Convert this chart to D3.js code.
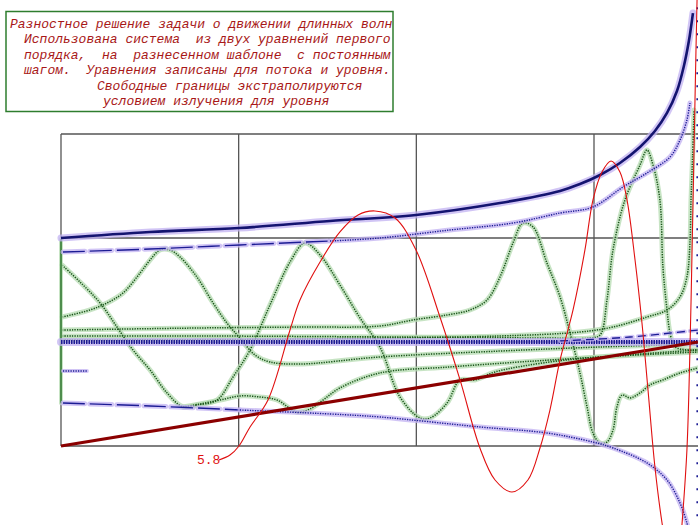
<!DOCTYPE html>
<html>
<head>
<meta charset="utf-8">
<script src="https://cdn.jsdelivr.net/npm/d3@7"></script>
<style>
  body { margin: 0; background: #fff; }
  svg { display: block; }
  text { white-space: pre; }
</style>
</head>
<body>
<svg id="chart" width="698" height="525"></svg>
<script>
// caption lines
var captionLines = [
  "Разностное решение задачи о движении длинных волн",
  "Использована система  из двух уравнений первого",
  "порядка,  на  разнесенном шаблоне  с постоянным",
  "шагом.  Уравнения записаны для потока и уровня.",
  "Свободные границы экстраполируются",
  "условием излучения для уровня"
];
var captionX = [10, 24, 24, 24, 97, 103];

// grid (in plot units)
var gridX = [0, 1, 2, 3, 4];
var gridY = [0, 1, 2, 3];

// red thin wave and its label
var redWave = [[0.889,-0.135],[0.951,-0.087],[1.002,0],[1.064,0.183],[1.165,0.442],[1.289,1.115],[1.345,1.404],[1.458,1.769],[1.570,2.058],[1.672,2.221],[1.767,2.260],[1.880,2.192],[1.998,1.885],[2.133,1.240],[2.246,0.635],[2.358,-0.019],[2.443,-0.327],[2.538,-0.442],[2.628,-0.327],[2.696,-0.019],[2.752,0.346],[2.809,0.827],[2.882,1.308],[2.949,1.885],[2.994,2.365],[3.045,2.635],[3.096,2.740],[3.146,2.635],[3.186,2.365],[3.231,1.788],[3.270,1.183],[3.304,0.538],[3.343,-0.202],[3.383,-0.740],[3.405,-0.952]];
var redRight = [[3.495,-0.760],[3.523,-0.038],[3.540,0.923],[3.552,1.885],[3.563,2.846],[3.574,3.808],[3.580,4.288]];
var redLabel = "5.8";
var redLabelAt = [0.765, -0.17];
// bottom slope
var bottomLine = [[0,0],[3.585,1.0]];

// blue series
var blueTop = [[0,2.0],[0.501,2.058],[1.002,2.096],[1.514,2.163],[1.998,2.221],[2.471,2.336],[2.809,2.452],[2.921,2.519],[3.034,2.606],[3.146,2.721],[3.259,2.875],[3.343,3.029],[3.411,3.202],[3.467,3.413],[3.506,3.654],[3.534,3.894],[3.557,4.163]];
var blueSecond = [[0.011,1.865],[0.501,1.894],[1.007,1.933],[1.514,1.971],[1.795,2.0],[2.189,2.077],[2.544,2.144],[2.809,2.240],[2.994,2.298],[3.163,2.490],[3.298,2.625],[3.428,2.779],[3.484,2.942],[3.523,3.135],[3.540,3.298]];
var blueBand = [[0,1.0],[3.585,1.0]];
var blueRightDash = [[2.809,1.01],[3.203,1.048],[3.585,1.115]];
var blueShort = [[0.011,0.721],[0.146,0.721]];
var blueLower = [[0.011,0.413],[0.501,0.385],[1.007,0.346],[1.514,0.308],[1.795,0.279],[2.358,0.183],[2.735,0.125],[2.994,0.038],[3.107,-0.019],[3.298,-0.163],[3.411,-0.327],[3.484,-0.548],[3.523,-0.740],[3.540,-0.856]];
var blueEdge = [[3.582,-0.8],[3.582,4.3]];

// green series
var greenA = [[0.006,1.240],[0.163,1.308],[0.259,1.375],[0.349,1.471],[0.445,1.663],[0.501,1.788],[0.557,1.885],[0.613,1.885],[0.670,1.817],[0.765,1.625],[0.856,1.375],[0.934,1.183],[1.007,1.038],[1.092,0.875],[1.176,0.808],[1.345,0.788],[1.795,0.856],[2.471,0.913],[3.034,0.952],[3.585,0.981]];
var greenB = [[0.006,1.740],[0.107,1.577],[0.220,1.375],[0.315,1.144],[0.405,0.923],[0.501,0.731],[0.597,0.510],[0.687,0.375],[0.765,0.394],[0.878,0.442],[0.968,0.663],[1.064,0.923],[1.176,1.356],[1.289,1.769],[1.373,1.952],[1.458,1.837],[1.570,1.548],[1.683,1.231],[1.795,0.952],[1.908,0.471],[2.021,0.269],[2.077,0.269],[2.173,0.413],[2.246,0.635],[2.330,0.635],[2.443,0.712],[2.752,0.808],[3.034,0.856],[3.585,0.923]];
var greenC = [[0.006,1.115],[0.782,1.135],[1.345,1.144],[1.795,1.154],[1.981,1.212],[2.173,1.260],[2.302,1.308],[2.398,1.404],[2.471,1.625],[2.544,1.952],[2.600,2.144],[2.657,2.106],[2.735,1.760],[2.809,1.433],[2.865,1.087],[2.921,0.702],[2.961,0.375],[2.994,0.125],[3.034,0.029],[3.073,0.038],[3.107,0.154],[3.129,0.375],[3.158,0.490],[3.203,0.462],[3.259,0.510],[3.315,0.587],[3.388,0.635],[3.484,0.702],[3.585,0.750]];
var greenD = [[0.006,1.058],[0.782,1.058],[1.908,1.048],[2.752,1.038],[2.977,1.038],[3.034,1.067],[3.073,1.404],[3.107,1.885],[3.174,2.365],[3.259,2.702],[3.298,2.846],[3.332,2.702],[3.371,2.365],[3.388,1.721],[3.411,1.308],[3.428,1.087],[3.456,0.952],[3.585,0.923]];
var greenRise = [[0.006,1.019],[1.345,1.029],[2.471,1.058],[2.921,1.096],[3.107,1.144],[3.298,1.240],[3.411,1.308],[3.484,1.433],[3.523,1.625],[3.540,1.952],[3.546,2.365],[3.552,2.654],[3.557,2.894],[3.563,3.231]];
var greenTrough = [[0.687,0.375],[0.782,0.404],[0.895,0.442],[1.007,0.481],[1.120,0.471],[1.216,0.442],[1.328,0.327],[1.401,0.356],[1.475,0.442],[1.570,0.558],[1.795,0.702],[2.189,0.760],[2.583,0.808],[3.034,0.856],[3.585,0.904]];
var greenWall = [[0,0.41],[0,1.99]];

var svg = d3.select("#chart");

var x = d3.scaleLinear().domain([0, 3]).range([61, 594]);
var y = d3.scaleLinear().domain([0, 3]).range([446, 134]);

var line = d3.line()
  .x(function(d){ return x(d[0]); })
  .y(function(d){ return y(d[1]); })
  .curve(d3.curveCatmullRom.alpha(0.5));

// grid
svg.append("g").selectAll("line.v")
  .data(gridX).enter().append("line")
  .attr("x1", function(d){ return x(d); }).attr("x2", function(d){ return x(d); })
  .attr("y1", y(0)).attr("y2", y(3))
  .attr("stroke", "#555").attr("stroke-width", 1.3);
svg.append("g").selectAll("line.h")
  .data(gridY).enter().append("line")
  .attr("x1", x(0)).attr("x2", x(4))
  .attr("y1", function(d){ return y(d); }).attr("y2", function(d){ return y(d); })
  .attr("stroke", "#555").attr("stroke-width", 1.3);

// dotted "marker" lines with a soft halo behind
function halo(data, color, w, dash) {
  svg.append("path").attr("d", line(data))
    .attr("fill", "none").attr("stroke", color)
    .attr("stroke-width", w).attr("stroke-opacity", 0.75)
    .attr("stroke-linecap", "round")
    .attr("stroke-dasharray", dash || null);
}
function core(data, color, w, dash) {
  svg.append("path").attr("d", line(data))
    .attr("fill", "none").attr("stroke", color)
    .attr("stroke-width", w)
    .attr("stroke-dasharray", dash || null);
}
function split(data, at) { // part left of "at" and part right of it
  return [data.filter(function(d){ return d[0] <= at; }),
          data.filter(function(d, i){ return d[0] >= at || (data[i+1] && data[i+1][0] > at && d[0] <= at); })];
}

var gHalo = "#b4dbb0", gCore = "#1a551a";
var bHalo = "#c2b2f2", bCore = "#1c1c94";

// green curves
[greenA, greenB, greenC, greenD, greenRise, greenTrough].forEach(function(s){
  halo(s, gHalo, 5);
});
[greenA, greenB, greenC, greenD, greenRise, greenTrough].forEach(function(s){
  core(s, gCore, 1.5, "1.3,1.2");
});
halo(greenWall, gHalo, 4);
core(greenWall, "#2f7a2f", 1.5);

// blue curves
halo(blueBand, bHalo, 8);
core(blueBand, bCore, 4, "1.5,1");
var s2 = split(blueSecond, 1.55);
halo(s2[0], bHalo, 5, "22,5"); core(s2[0], bCore, 1.4, "22,5");
halo(s2[1], bHalo, 5); core(s2[1], bCore, 1.4, "1.3,1.2");
var s3 = split(blueLower, 1.3);
halo(s3[0], bHalo, 5, "22,5"); core(s3[0], bCore, 1.4, "22,5");
halo(s3[1], bHalo, 5); core(s3[1], bCore, 1.4, "1.3,1.2");
halo(blueRightDash, bHalo, 4, "8,5"); core(blueRightDash, bCore, 1.3, "8,5");
halo(blueShort, bHalo, 4); core(blueShort, bCore, 1.3, "1.3,1.2");
core(blueEdge, bCore, 2, "2,11");
halo(blueTop, bHalo, 7);
core(blueTop, "#141470", 2.6);

// bottom slope and red wave
core(bottomLine, "#8b0000", 3.2);
core(redWave, "#e01010", 1.1);
core(redRight, "#e01010", 1.1);

svg.append("text")
  .attr("x", x(redLabelAt[0])).attr("y", y(redLabelAt[1]))
  .attr("fill", "#e01010")
  .style("font-family", "'Liberation Mono', monospace")
  .style("font-size", "13px")
  .text(redLabel);

// caption box
svg.append("rect")
  .attr("x", 6).attr("y", 11.5).attr("width", 387).attr("height", 100)
  .attr("fill", "#fff").attr("stroke", "#2e7d2e").attr("stroke-width", 1.5);
svg.append("g").selectAll("text")
  .data(captionLines).enter().append("text")
  .attr("x", function(d, i){ return captionX[i]; })
  .attr("y", function(d, i){ return 28 + i * 15.4; })
  .attr("fill", "#a81818")
  .style("font-family", "'Liberation Mono', monospace")
  .style("font-style", "italic")
  .style("font-size", "13px")
  .text(function(d){ return d; });
</script>
</body>
</html>
